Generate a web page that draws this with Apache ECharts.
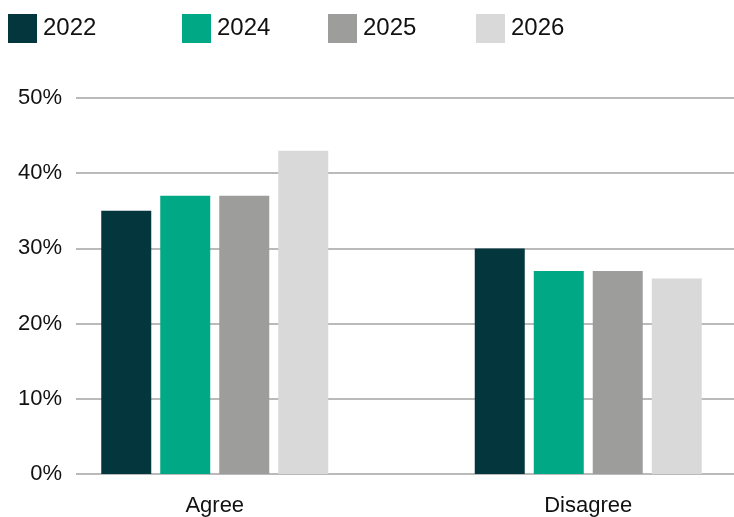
<!DOCTYPE html>
<html>
<head>
<meta charset="utf-8">
<script src="https://cdn.jsdelivr.net/npm/echarts@6/dist/echarts.min.js"></script>
<style>
  html, body { margin: 0; padding: 0; background: #ffffff; }
  #chart { width: 734px; height: 517px; }
</style>
</head>
<body>
<div id="chart"></div>
<script>
// Survey responses by year
const categories = ['Agree', 'Disagree'];
const years = ['2022', '2024', '2025', '2026'];
const values2022 = [35, 30];
const values2024 = [37, 27];
const values2025 = [37, 27];
const values2026 = [43, 26];
const yTicks = [0, 10, 20, 30, 40, 50];

const colors = ['#03363d', '#00a886', '#9d9d9b', '#d9d9d9'];
const seriesValues = [values2022, values2024, values2025, values2026];
const legendLeft = [8, 182, 328, 476];
const font = '"Liberation Sans", Arial, Helvetica, sans-serif';

const chart = echarts.init(document.getElementById('chart'), null, { renderer: 'canvas' });

const legends = years.map((y, i) => ({
  data: [y],
  left: legendLeft[i],
  top: 14,
  padding: 0,
  itemWidth: 29,
  itemHeight: 29,
  itemGap: 0,
  icon: 'rect',
  selectedMode: false,
  textStyle: { fontFamily: font, fontSize: 24, color: '#111111', padding: [5, 0, 0, 1] }
}));

chart.setOption({
  animation: false,
  backgroundColor: '#ffffff',
  legend: legends,
  grid: [
    { left: 76, right: 0, top: 98, bottom: 43, outerBoundsMode: 'none' },
    // bar grid runs past the right edge so the groups sit off-centre
    { left: 28, right: -41, top: 98, bottom: 43, outerBoundsMode: 'none' }
  ],
  xAxis: [
    { type: 'category', gridIndex: 0, data: categories, show: false },
    {
      type: 'category', gridIndex: 1, data: categories,
      axisLine: { show: false }, axisTick: { show: false },
      axisLabel: { fontFamily: font, fontSize: 22, color: '#111111', margin: 21 }
    }
  ],
  yAxis: [
    {
      type: 'value', gridIndex: 0, min: yTicks[0], max: yTicks[yTicks.length - 1], interval: 10,
      axisLine: { show: false }, axisTick: { show: false },
      axisLabel: { fontFamily: font, fontSize: 22, color: '#111111', margin: 14, formatter: v => v + '%' },
      splitLine: { lineStyle: { color: '#a3a3a3', width: 1.5 } }
    },
    {
      type: 'value', gridIndex: 1, min: yTicks[0], max: yTicks[yTicks.length - 1], interval: 10,
      show: false, splitLine: { show: false }
    }
  ],
  series: years.map((y, i) => ({
    name: y,
    type: 'bar',
    xAxisIndex: 1,
    yAxisIndex: 1,
    data: seriesValues[i],
    barWidth: 50,
    barGap: '18%',
    itemStyle: { color: colors[i] }
  }))
});
</script>
</body>
</html>
